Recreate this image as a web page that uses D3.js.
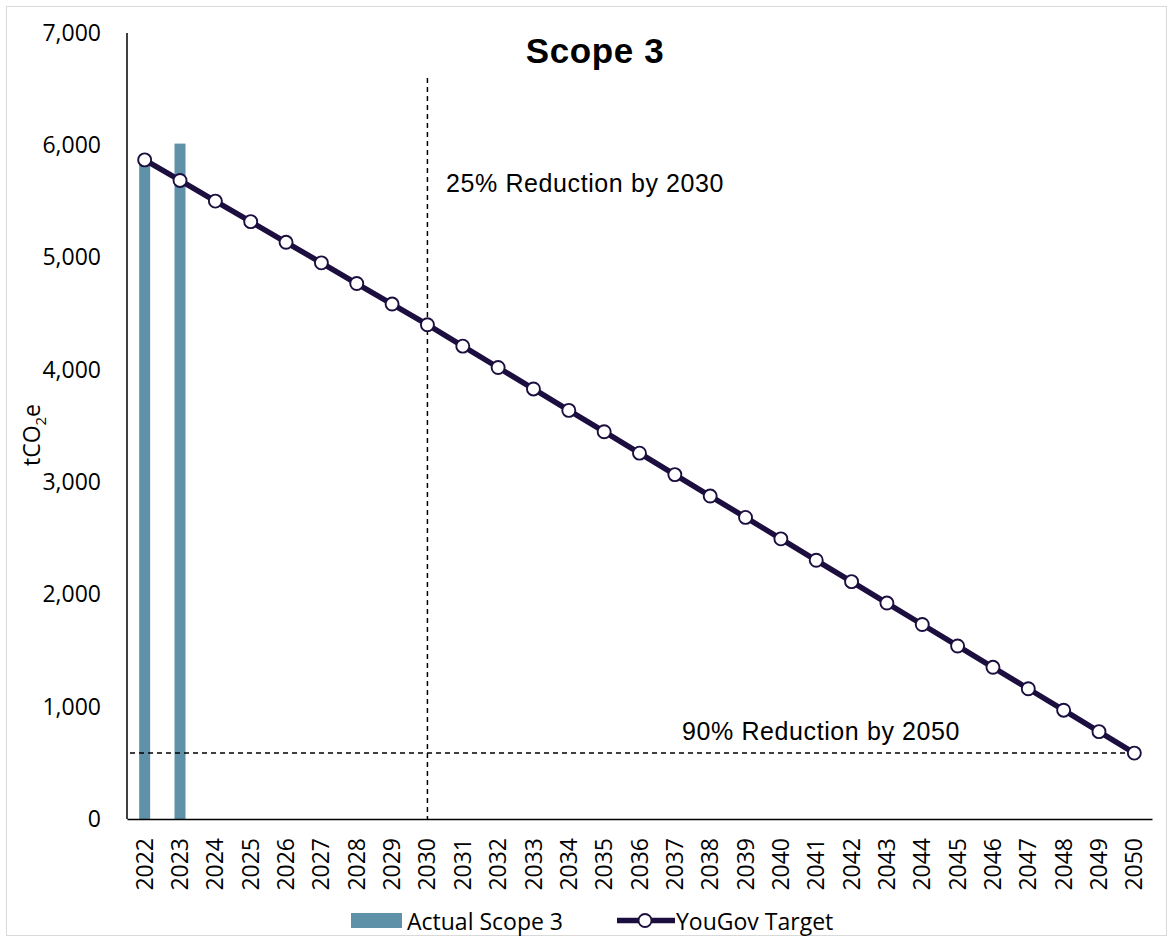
<!DOCTYPE html>
<html><head><meta charset="utf-8">
<script src="https://cdn.jsdelivr.net/npm/d3@7"></script>
<style>body{margin:0;background:#fff}</style>
</head><body>
<script>
const years = d3.range(2022, 2051).map(String);
const actualYears = ["2022", "2023"];
const actualValues = [5870, 6015];
const targetValues = [5870,5687,5503,5320,5136,4953,4769,4586,4402,4211,4021,3830,3639,3449,3258,3067,2876,2686,2495,2304,2114,1923,1732,1541,1351,1160,969,778,587];
const yTicks = [0,1000,2000,3000,4000,5000,6000,7000];
const title = "Scope 3";
const ann2030 = "25% Reduction by 2030";
const ann2050 = "90% Reduction by 2050";
const legendLabels = ["Actual Scope 3", "YouGov Target"];

const W = 1173, H = 942;
const m = {left:127, right:21, top:32, bottom:123};
const svg = d3.select("body").append("svg").attr("width", W).attr("height", H);
svg.append("rect").attr("x",6.5).attr("y",6.5).attr("width",W-13).attr("height",H-13)
  .attr("fill","#fff").attr("stroke","#d9d9d9");

const x = d3.scaleBand().domain(years).range([m.left, W - m.right]);
const y = d3.scaleLinear().domain([0,7000]).range([H - m.bottom, m.top + 1]);
const cx = d => x(d) + x.bandwidth()/2;
const tickFont = "'Open Sans', 'Noto Sans', sans-serif";
const arial = "'Liberation Sans', Arial, sans-serif";
const navy = "#1c0f3f";

// bars
svg.selectAll("rect.bar").data(actualYears.map((d,i)=>({k:d,v:actualValues[i]}))).enter()
  .append("rect").attr("class","bar")
  .attr("x", d => cx(d.k) - 5.5).attr("width", 11)
  .attr("y", d => y(d.v)).attr("height", d => y(0) - y(d.v))
  .attr("fill","#5f91a9");

// axes
const yAxis = svg.append("g").attr("transform",`translate(${m.left},0)`)
  .call(d3.axisLeft(y).tickValues(yTicks).tickSize(0).tickPadding(26).tickFormat(d3.format(",")));
yAxis.select(".domain").attr("stroke","#000").attr("stroke-width",1.5).attr("d",`M0,${y(7000)}V${y(0)}`);
yAxis.selectAll("text").attr("font-family",tickFont).attr("font-size",23).attr("fill","#000");

const xAxis = svg.append("g").attr("transform",`translate(0,${y(0)})`)
  .call(d3.axisBottom(x).tickSize(0).tickPadding(0));
xAxis.select(".domain").attr("stroke","#000").attr("stroke-width",1.5);
xAxis.selectAll("text").attr("font-family",tickFont).attr("font-size",23).attr("fill","#000")
  .attr("text-anchor","end").attr("dy","0.35em")
  .attr("transform","translate(0,19) rotate(-90)").attr("x",0).attr("y",0);

// reference lines
svg.append("line").attr("x1",cx("2030")).attr("x2",cx("2030")).attr("y1",78).attr("y2",y(0))
  .attr("stroke","#000").attr("stroke-width",1.5).attr("stroke-dasharray","5,4");
svg.append("line").attr("x1",m.left+3).attr("x2",cx("2050")).attr("y1",y(587)).attr("y2",y(587))
  .attr("stroke","#000").attr("stroke-width",1.5).attr("stroke-dasharray","5,4");

// target line
const line = d3.line().x((d,i)=>cx(years[i])).y(d=>y(d));
svg.append("path").datum(targetValues).attr("d",line).attr("fill","none")
  .attr("stroke",navy).attr("stroke-width",5.5);
svg.selectAll("circle.pt").data(targetValues).enter().append("circle").attr("class","pt")
  .attr("cx",(d,i)=>cx(years[i])).attr("cy",d=>y(d)).attr("r",6.5)
  .attr("fill","#fff").attr("stroke",navy).attr("stroke-width",1.9);

// texts
svg.append("text").attr("x",595).attr("y",63).attr("text-anchor","middle")
  .attr("font-family",arial).attr("font-weight","bold").attr("letter-spacing",0.6)
  .attr("font-size",35).text(title);
svg.append("text").attr("x",446).attr("y",192).attr("font-family",arial)
  .attr("font-size",25).attr("letter-spacing",0.6).text(ann2030);
svg.append("text").attr("x",682).attr("y",740).attr("font-family",arial)
  .attr("font-size",25).attr("letter-spacing",0.6).text(ann2050);

// y title
const yt = svg.append("text").attr("transform","translate(40,435) rotate(-90)").attr("text-anchor","middle")
  .attr("font-family",tickFont).attr("font-size",23);
yt.append("tspan").text("tCO");
yt.append("tspan").attr("font-size",15).attr("dy",6).text("2");
yt.append("tspan").attr("dy",-6).text("e");

// legend
const lg = svg.append("g").attr("font-family",tickFont).attr("font-size",23);
lg.append("rect").attr("x",351).attr("y",913).attr("width",51).attr("height",15).attr("fill","#5f91a9");
lg.append("text").attr("x",407).attr("y",930).text(legendLabels[0]);
lg.append("line").attr("x1",617).attr("x2",675).attr("y1",920.5).attr("y2",920.5).attr("stroke",navy).attr("stroke-width",5.5);
lg.append("circle").attr("cx",645).attr("cy",920.5).attr("r",6.5).attr("fill","#fff").attr("stroke",navy).attr("stroke-width",1.9);
lg.append("text").attr("x",676).attr("y",930).text(legendLabels[1]);
</script>
</body></html>
